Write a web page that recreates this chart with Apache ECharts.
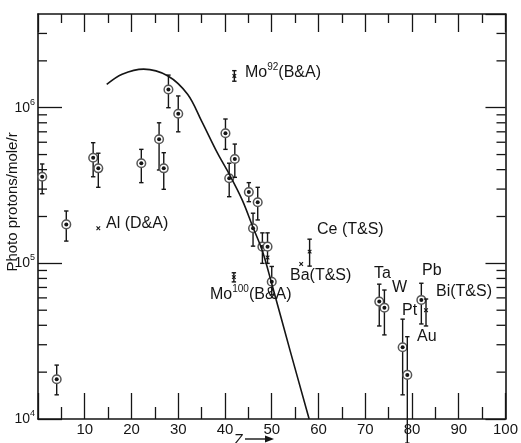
<!DOCTYPE html>
<html><head><meta charset="utf-8">
<script src="https://cdn.jsdelivr.net/npm/echarts@6/dist/echarts.min.js"></script>
<style>html,body{margin:0;padding:0;background:#fff}#c{width:521px;height:443px}</style>
</head><body><div id="c"></div>
<script>
// Circled data points: atomic number Z, yield, error low, error high
const circZ   = [0.9, 4.0, 6.05, 11.8, 12.9, 22.1, 25.9, 26.9, 27.9, 30.0, 40.1, 40.9, 42.1, 45.1, 47.0, 46.0, 48.0, 49.1, 50.0, 73.0, 74.1, 78.0, 79.0, 82.0];
const circVal = [3.6e5, 1.8e4, 1.78e5, 4.77e5, 4.08e5, 4.4e5, 6.27e5, 4.08e5, 1.31e6, 9.15e5, 6.85e5, 3.52e5, 4.68e5, 2.87e5, 2.47e5, 1.68e5, 1.28e5, 1.28e5, 7.62e4, 5.68e4, 5.19e4, 2.89e4, 1.92e4, 5.82e4];
const circLo  = [2.8e5, 1.43e4, 1.39e5, 3.6e5, 3.08e5, 3.3e5, 3.98e5, 2.99e5, 1.0e6, 7.0e5, 5.4e5, 2.68e5, 3.57e5, 2.49e5, 1.9e5, 1.29e5, 1.0e5, 1.0e5, 6.27e4, 3.96e4, 3.47e4, 1.43e4, 7.0e3, 4.08e4];
const circHi  = [4.35e5, 2.22e4, 2.17e5, 5.96e5, 5.1e5, 5.4e5, 8.0e5, 5.14e5, 1.62e6, 1.19e6, 8.46e5, 4.4e5, 5.84e5, 3.3e5, 3.08e5, 2.1e5, 1.57e5, 1.57e5, 9.55e4, 7.35e4, 6.74e4, 4.38e4, 3.38e4, 7.45e4];
// Cross markers (other authors)
const crossZ   = [12.9, 42.0, 41.9, 56.3, 58.1, 83.0, 49.1];
const crossVal = [1.68e5, 1.6e6, 8.15e4, 9.9e4, 1.19e5, 5.0e4, 1.09e5];
const crossLo  = [null, 1.48e6, 7.6e4, null, 9.6e4, 3.96e4, null];
const crossHi  = [null, 1.73e6, 8.7e4, null, 1.43e5, 5.9e4, null];
// Theoretical curve
const curveZ   = [14.7, 18, 22.6, 27.8, 32, 35, 38.4, 41, 43.7, 46, 48, 50, 54, 58];
const curveVal = [1.41e6, 1.64e6, 1.77e6, 1.6e6, 1.22e6, 8.2e5, 5.1e5, 3.7e5, 2.55e5, 1.7e5, 1.2e5, 7.4e4, 2.7e4, 1.0e4];
// Minor tick values on the log axis
const yMinor = [2e4,3e4,4e4,5e4,6e4,7e4,8e4,9e4,2e5,3e5,4e5,5e5,6e5,7e5,8e5,9e5,2e6,3e6];
// Annotation labels
const annoText = ['{a|Mo}{s|92}{a|(B&A)}','{a|Al (D&A)}','{a|Mo}{s|100}{a|(B&A)}','{a|Ce (T&S)}','{a|Ba(T&S)}','{a|Ta}','{a|W}','{a|Pt}','{a|Au}','{a|Pb}','{a|Bi(T&S)}'];
const annoPos = [[245,73],[106,224],[210,295],[317,230],[290,276],[374,274],[392,288],[402,311],[417,337],[422,271],[436,292]];

const FONT = 'Liberation Sans, Arial, sans-serif';
const INK = '#151515';

function errRender(kind) {
  return function (params, api) {
    const x = api.value(0), v = api.value(1), lo = api.value(2), hi = api.value(3);
    const p = api.coord([x, v]);
    const ch = [];
    const st = {stroke: INK, lineWidth: 1.4};
    if (isFinite(lo) && isFinite(hi) && lo > 0 && hi > 0) {
      const pl = api.coord([x, lo]), ph = api.coord([x, hi]);
      ch.push({type:'line', shape:{x1:p[0],y1:pl[1],x2:p[0],y2:ph[1]}, style:st});
      ch.push({type:'line', shape:{x1:p[0]-2.2,y1:pl[1],x2:p[0]+2.2,y2:pl[1]}, style:st});
      ch.push({type:'line', shape:{x1:p[0]-2.2,y1:ph[1],x2:p[0]+2.2,y2:ph[1]}, style:st});
    }
    if (kind === 'circ') {
      ch.push({type:'circle', shape:{cx:p[0],cy:p[1],r:4.3}, style:{fill:'#fff',stroke:'#555',lineWidth:1.5}});
      ch.push({type:'circle', shape:{cx:p[0],cy:p[1],r:2}, style:{fill:INK}});
    } else {
      const s = 1.8;
      ch.push({type:'line', shape:{x1:p[0]-s,y1:p[1]-s,x2:p[0]+s,y2:p[1]+s}, style:{stroke:INK,lineWidth:1.1}});
      ch.push({type:'line', shape:{x1:p[0]-s,y1:p[1]+s,x2:p[0]+s,y2:p[1]-s}, style:{stroke:INK,lineWidth:1.1}});
    }
    return {type:'group', children: ch};
  };
}

const chart = echarts.init(document.getElementById('c'), null, {renderer:'canvas'});
const axLine = {show:true, onZero:false, lineStyle:{color:INK, width:1.6}};
const tickStyle = {color:INK, width:1.3};

const graphics = annoText.map((t, i) => ({
  type:'text', x: annoPos[i][0], y: annoPos[i][1], silent:true,
  style:{text:t, fill:INK, align:'left', verticalAlign:'middle', textAlign:'left', textVerticalAlign:'middle',
    rich:{a:{fontSize:16, fontFamily:FONT, fill:INK, color:INK, lineHeight:22},
          s:{fontSize:10, fontFamily:FONT, fill:INK, color:INK, lineHeight:11, verticalAlign:'top'}}}
}));
graphics.push({type:'text', x:13, y:202, rotation:Math.PI/2, silent:true,
  style:{text:'Photo protons/mole/r', font:'15px ' + FONT, fill:INK, align:'center', verticalAlign:'middle', textAlign:'center', textVerticalAlign:'middle'}});
graphics.push({type:'text', x:239, y:440, silent:true,
  style:{text:'Z', font:'15px ' + FONT, fill:INK, align:'center', verticalAlign:'middle', textAlign:'center', textVerticalAlign:'middle'}});
graphics.push({type:'line', silent:true, shape:{x1:245,y1:439,x2:268,y2:439}, style:{stroke:INK, lineWidth:1.4}});
graphics.push({type:'polygon', silent:true, shape:{points:[[265,435.5],[274,439],[265,442.5]]}, style:{fill:INK}});

function powLabel(v) {
  const e = Math.log10(v);
  if (Math.abs(e - Math.round(e)) > 1e-6) return '';
  return '{b|10}{s|' + Math.round(e) + '}';
}

chart.setOption({
  animation:false,
  backgroundColor:'#fff',
  grid:{left:38, right:9, top:14, bottom:24},
  xAxis:[
    {type:'value', min:0, max:100, interval:10, position:'bottom',
     axisLine:axLine, axisTick:{show:true, inside:true, length:26, lineStyle:tickStyle},
     minorTick:{show:true, splitNumber:2, length:12, lineStyle:tickStyle},
     splitLine:{show:false}, minorSplitLine:{show:false},
     axisLabel:{color:INK, fontSize:15, fontFamily:FONT, margin:3, formatter: v => v === 0 ? '' : String(v)}},
    {type:'value', min:0, max:100, interval:10, position:'top',
     axisLine:axLine, axisTick:{show:true, inside:true, length:18, lineStyle:tickStyle},
     minorTick:{show:true, splitNumber:2, length:9, lineStyle:tickStyle},
     splitLine:{show:false}, axisLabel:{show:false}}
  ],
  yAxis:[
    {type:'log', logBase:10, min:1e4, max:4e6, position:'left',
     axisLine:axLine, axisTick:{show:true, inside:true, length:24, lineStyle:tickStyle},
     splitLine:{show:false},
     axisLabel:{margin:3, showMaxLabel:false, formatter: powLabel,
       rich:{b:{fontSize:14, fontFamily:FONT, color:INK, lineHeight:20},
             s:{fontSize:9, fontFamily:FONT, color:INK, lineHeight:10, verticalAlign:'top'}}}},
    {type:'log', logBase:10, min:1e4, max:4e6, position:'right',
     axisLine:axLine, axisTick:{show:true, inside:true, length:20, lineStyle:tickStyle},
     splitLine:{show:false}, axisLabel:{show:false}}
  ],
  graphic: graphics,
  series:[
    {type:'custom', name:'minor', silent:true, clip:false, xAxisIndex:0, yAxisIndex:0,
     data: yMinor.map(v => [0, v]),
     renderItem:(params, api) => {
       const l = api.coord([0, api.value(1)]), r = api.coord([100, api.value(1)]);
       return {type:'group', children:[
         {type:'line', shape:{x1:l[0],y1:l[1],x2:l[0]+9,y2:l[1]}, style:{stroke:INK,lineWidth:1.3}},
         {type:'line', shape:{x1:r[0]-9,y1:r[1],x2:r[0],y2:r[1]}, style:{stroke:INK,lineWidth:1.3}}
       ]};
     }},
    {type:'line', name:'theory', xAxisIndex:0, yAxisIndex:0, smooth:0.35, showSymbol:false, silent:true,
     lineStyle:{color:INK, width:1.6}, data: curveZ.map((z, i) => [z, curveVal[i]])},
    {type:'custom', name:'circ', clip:false, silent:true, xAxisIndex:0, yAxisIndex:0,
     encode:{x:0, y:1}, renderItem: errRender('circ'),
     data: circZ.map((z, i) => [z, circVal[i], circLo[i], circHi[i]])},
    {type:'custom', name:'cross', clip:false, silent:true, xAxisIndex:0, yAxisIndex:0,
     encode:{x:0, y:1}, renderItem: errRender('cross'),
     data: crossZ.map((z, i) => [z, crossVal[i], crossLo[i] === null ? '-' : crossLo[i], crossHi[i] === null ? '-' : crossHi[i]])}
  ]
});
</script>
</body></html>
